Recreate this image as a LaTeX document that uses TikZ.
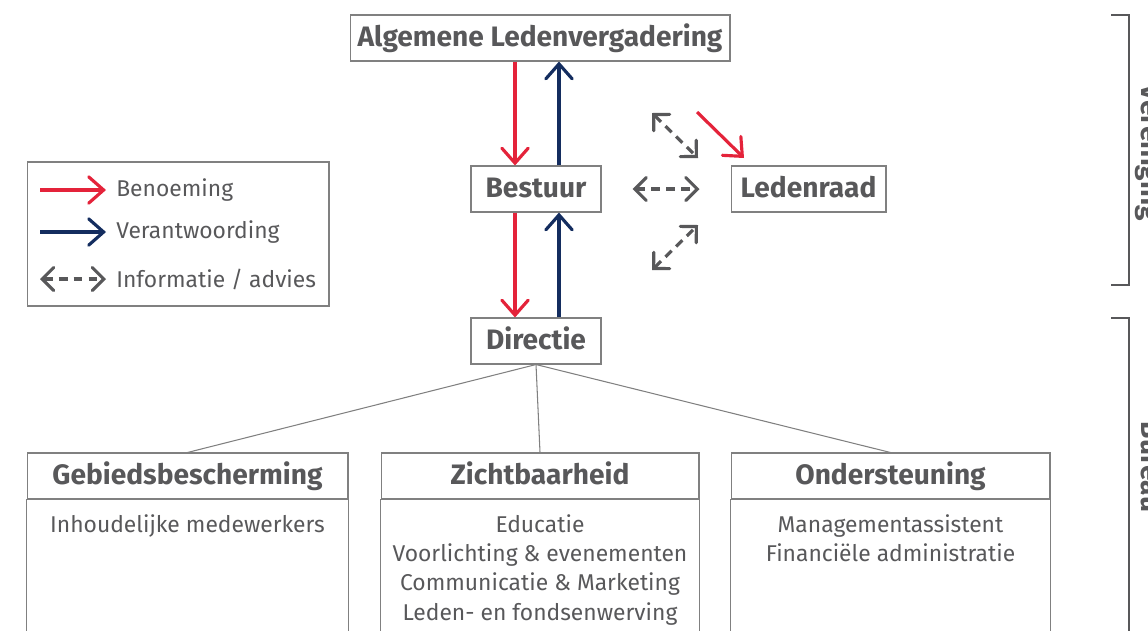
\documentclass[tikz,border=0pt]{standalone}
\usepackage{fontspec}
\setmainfont{Fira Sans}
\usetikzlibrary{arrows.meta,positioning}

\definecolor{tekstgrijs}{HTML}{58585A}
\definecolor{randgrijs}{HTML}{808080}
\definecolor{benoemrood}{HTML}{E4233A}
\definecolor{verantblauw}{HTML}{142D5F}

\tikzset{
  orgaan/.style={draw=randgrijs, line width=0.6pt, text=tekstgrijs, inner sep=0pt,
    minimum height=0.92cm, text height=12.6pt, text depth=3pt,
    font=\fontsize{16}{19}\selectfont\bfseries},
  kop/.style={orgaan},
  taak/.style={text=tekstgrijs, inner sep=0pt, align=center, anchor=north,
    font=\fontsize{13}{16.7}\selectfont},
  legtekst/.style={text=tekstgrijs, inner sep=0pt, anchor=west,
    font=\fontsize{13}{16}\selectfont},
  benoeming/.style={draw=benoemrood, line width=1.8pt,
    -{Straight Barb[length=8.5pt,width=15pt,line cap=round]}},
  verantw/.style={draw=verantblauw, line width=1.8pt,
    -{Straight Barb[length=8.5pt,width=15pt,line cap=round]}},
  info/.style={draw=tekstgrijs, line width=1.8pt, dash pattern=on 5pt off 3.5pt,
    {Straight Barb[length=6.5pt,width=13pt,line cap=round]}-{Straight Barb[length=6.5pt,width=13pt,line cap=round]}},
  tak/.style={draw=randgrijs, line width=0.6pt},
  haak/.style={draw=tekstgrijs, line width=1.1pt},
  groep/.style={text=tekstgrijs, inner sep=0pt, rotate=-90, anchor=base,
    font=\fontsize{16}{19}\selectfont\bfseries}
}

\begin{document}
\begin{tikzpicture}[x=0.02cm, y=-0.02cm]
  %%%%% START %%%%%
  \useasboundingbox (0,0) rectangle (1148,630);
  \clip (0,0) rectangle (1148,630);

  % organen
  \node[orgaan, minimum width=7.6cm] (alv) at (540,38) {Algemene Ledenvergadering};
  \node[orgaan, minimum width=2.6cm] (bestuur) at (536,189) {Bestuur};
  \node[orgaan, minimum width=3.1cm] (ledenraad) at (808.5,189) {Ledenraad};
  \node[orgaan, minimum width=2.6cm] (directie) at (536,341) {Directie};

  % benoeming en verantwoording
  \coordinate (rood-b) at ([xshift=-0.42cm]bestuur.north);
  \coordinate (blauw-b) at ([xshift=0.46cm]bestuur.north);
  \draw[benoeming] (rood-b |- alv.south) -- (rood-b);
  \draw[verantw] (blauw-b) -- (blauw-b |- alv.south);

  \coordinate (rood-d) at ([xshift=-0.42cm]directie.north);
  \coordinate (blauw-d) at ([xshift=0.46cm]directie.north);
  \draw[benoeming] (rood-d |- bestuur.south) -- (rood-d);
  \draw[verantw] (blauw-d) -- (blauw-d |- bestuur.south);

  % ledenraad
  \coordinate (lr-van) at (697,112);
  \coordinate (lr-naar) at (744,158);
  \draw[benoeming] (lr-van) -- (lr-naar);

  \draw[info, shorten <=0.62cm, shorten >=0.62cm] (bestuur.east) -- (ledenraad.west);
  \coordinate (info-lb) at (652,113);
  \coordinate (info-ro) at (698,158);
  \draw[info] (info-lb) -- (info-ro);
  \coordinate (info-lo) at (652,270);
  \coordinate (info-rb) at (698,225);
  \draw[info] (info-lo) -- (info-rb);

  % legenda
  \node[draw=randgrijs, line width=0.6pt, minimum width=6.04cm, minimum height=2.88cm,
    inner sep=0pt] (legenda) at (178,234) {};
  \node[legtekst] (leg-benoem) at (116,190) {Benoeming};
  \node[legtekst] (leg-verantw) at (116,232) {Verantwoording};
  \node[legtekst] (leg-info) at (116,279) {Informatie / advies};
  \draw[benoeming] (40,190) -- (106,190);
  \draw[verantw] (40,232) -- (106,232);
  \draw[info] (40,279) -- (106,279);

  % afdelingen
  \node[kop, minimum width=6.42cm] (gebied) at (187.5,476) {Gebiedsbescherming};
  \node[kop, minimum width=6.36cm] (zicht) at (540,476) {Zichtbaarheid};
  \node[kop, minimum width=6.38cm] (onder) at (890.5,476) {Ondersteuning};

  \draw[tak] (directie.south) -- (gebied.north);
  \draw[tak] (directie.south) -- (zicht.north);
  \draw[tak] (directie.south) -- (onder.north);

  \draw[tak] (gebied.south west) rectangle ([yshift=-4cm]gebied.south east);
  \draw[tak] (zicht.south west) rectangle ([yshift=-4cm]zicht.south east);
  \draw[tak] (onder.south west) rectangle ([yshift=-4cm]onder.south east);

  \node[taak, below=0.29cm of gebied] (gebied-taken) {Inhoudelijke medewerkers};
  \node[taak, below=0.29cm of zicht] (zicht-taken) {Educatie\\Voorlichting \& evenementen\\Communicatie \& Marketing\\Leden- en fondsenwerving};
  \node[taak, below=0.29cm of onder] (onder-taken) {Managementassistent\\Financiële administratie};

  % vereniging en bureau
  \draw[haak] (1111,15) -- (1129,15) -- (1129,285) -- (1111,285);
  \node[groep] (vereniging) at (1141,153) {Vereniging};
  \draw[haak] (1111,318) -- (1129,318) -- (1129,640);
  \node[groep] (bureau) at (1141,467) {Bureau};
  %%%%% END %%%%%
\end{tikzpicture}
\end{document}
